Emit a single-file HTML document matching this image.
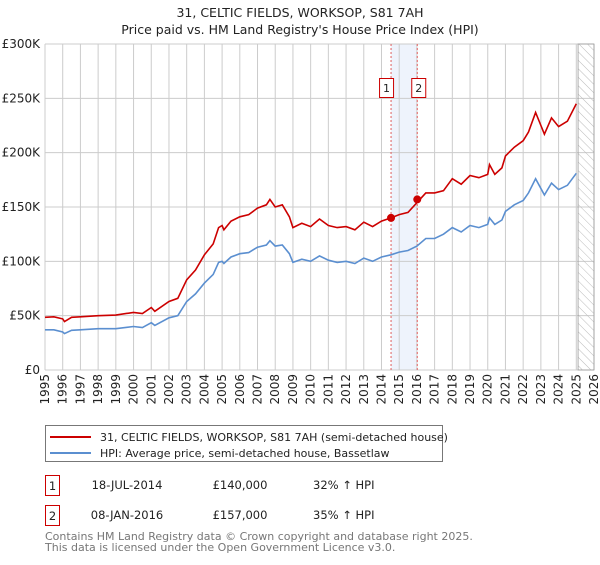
<!DOCTYPE html>
<html><head><meta charset="utf-8"><style>
body{margin:0;background:#fff;font-family:"Liberation Sans","DejaVu Sans",sans-serif;}
svg text{font-family:"DejaVu Sans","Liberation Sans",sans-serif;}
</style></head><body>
<svg width="600" height="560" xmlns="http://www.w3.org/2000/svg" id="chart">
<defs><pattern id="hatch" width="6" height="6" patternUnits="userSpaceOnUse" patternTransform="rotate(-45)"><line x1="0" y1="0" x2="0" y2="6" stroke="#bbb" stroke-width="1"/></pattern></defs>
<text x="300" y="17" text-anchor="middle" font-size="12.5" fill="#222">31, CELTIC FIELDS, WORKSOP, S81 7AH</text>
<text x="300" y="34" text-anchor="middle" font-size="12.5" fill="#222">Price paid vs. HM Land Registry's House Price Index (HPI)</text>
<g id="grid"></g><g id="marks"></g>
<g>
<rect x="45.5" y="425.5" width="397" height="36" fill="#fff" stroke="#777"/>
<line x1="50" y1="437" x2="91" y2="437" stroke="#cc0000" stroke-width="2"/>
<text x="100" y="441" font-size="11" fill="#222">31, CELTIC FIELDS, WORKSOP, S81 7AH (semi-detached house)</text>
<line x1="50" y1="453" x2="91" y2="453" stroke="#5b8fd0" stroke-width="2"/>
<text x="100" y="457" font-size="11" fill="#222">HPI: Average price, semi-detached house, Bassetlaw</text>
</g>
<g font-size="11.5" fill="#222">
<rect x="45.5" y="475.5" width="14" height="20" fill="#fff" stroke="#cc0000"/><text x="52.5" y="490" text-anchor="middle">1</text>
<text x="127" y="489" text-anchor="middle">18-JUL-2014</text><text x="240" y="489" text-anchor="middle">£140,000</text><text x="313" y="489">32% ↑ HPI</text>
<rect x="45.5" y="505.5" width="14" height="20" fill="#fff" stroke="#cc0000"/><text x="52.5" y="520" text-anchor="middle">2</text>
<text x="127" y="519" text-anchor="middle">08-JAN-2016</text><text x="240" y="519" text-anchor="middle">£157,000</text><text x="313" y="519">35% ↑ HPI</text>
</g>
<text x="45" y="540" font-size="11" fill="#777">Contains HM Land Registry data © Crown copyright and database right 2025.</text>
<text x="45" y="551" font-size="11" fill="#777">This data is licensed under the Open Government Licence v3.0.</text>
</svg>
<script>
const hpiYears=[1995,1995.5,1996,1996.1,1996.5,1997,1998,1999,2000,2000.5,2001,2001.2,2002,2002.5,2003,2003.5,2004,2004.5,2004.8,2005,2005.1,2005.5,2006,2006.5,2007,2007.5,2007.7,2008,2008.4,2008.8,2009,2009.5,2010,2010.5,2011,2011.5,2012,2012.5,2013,2013.5,2014,2014.54,2015,2015.5,2016,2016.5,2017,2017.5,2018,2018.5,2019,2019.5,2020,2020.1,2020.4,2020.8,2021,2021.5,2022,2022.3,2022.7,2023,2023.2,2023.6,2024,2024.5,2025];
const hpiValues=[37,37,35,33.5,36.5,37,38,38,40,39,43.5,41,48,50,63,70,80,88,99,100,98,104,107,108,113,115,119,114,115,107,99,102,100,105,101,99,100,98,103,100,104,106,108.5,110,114,121,121,125,131,127,133,131,134,140,134,138,146,152,156,163,176,167,161,172,166,170,181];
const priceValues=[48.5,49,47,44.5,48.5,49,50,50.5,53,52,57.5,54,63,66,83,92,106,116,131,133,129,137,141,143,149,152,157,150,152,141,131,135,132,139,133,131,132,129,136,132,137,140,143,145,154,163,163,165,176,171,179,177,180,189,180,186,197,205,211,219,237,225,217,232,224,229,245];
const saleYears=[2014.54,2016.02];
const saleValues=[140,157];
const saleLabels=["1","2"];
const yTicks=[0,50,100,150,200,250,300];
const yTickLabels=["£0","£50K","£100K","£150K","£200K","£250K","£300K"];
const xTicks=[1995,1996,1997,1998,1999,2000,2001,2002,2003,2004,2005,2006,2007,2008,2009,2010,2011,2012,2013,2014,2015,2016,2017,2018,2019,2020,2021,2022,2023,2024,2025,2026];
const L=45,R=594,T=44,B=370,X0=1995,X1=2026,Y1=300,hatchStart=2025.1;
const xs=v=>L+(v-X0)/(X1-X0)*(R-L), ys=v=>B-v/Y1*(B-T);
const NS="http://www.w3.org/2000/svg";
function mk(tag,attrs,parent,txt){const e=document.createElementNS(NS,tag);for(const k in attrs)e.setAttribute(k,attrs[k]);if(txt!==undefined)e.textContent=txt;parent.appendChild(e);return e;}
const g=document.getElementById('grid'),m=document.getElementById('marks');
let e=mk('rect',{x:xs(saleYears[0]),y:T,width:xs(saleYears[1])-xs(saleYears[0]),height:B-T,fill:'#eef3fc'},g);


yTicks.forEach((v,i)=>{
 mk('line',{x1:L,x2:R,y1:ys(v),y2:ys(v),stroke:'#ccc'},g);
 const t=mk('text',{x:L-5,y:ys(v)+4,'text-anchor':'end','font-size':12,fill:'#222'},g,yTickLabels[i]);
 
 
});
xTicks.forEach(v=>{
 mk('line',{x1:xs(v),x2:xs(v),y1:T,y2:B,stroke:'#ccc'},g);
 const t=mk('text',{x:0,y:0,transform:`translate(${xs(v)+4},${B+4}) rotate(-90)`,'text-anchor':'end','font-size':12,fill:'#222'},g,String(v));
 
 
});
e=mk('rect',{x:xs(hatchStart),y:T,width:R-xs(hatchStart),height:B-T,fill:'url(#hatch)',stroke:'#999','stroke-width':0.8},g);


mk('line',{x1:L,x2:L,y1:T,y2:B,stroke:'#ccc'},g);
saleYears.forEach((y,i)=>{
 const l=mk('line',{x1:xs(y),x2:xs(y),y1:T,y2:B,stroke:'#e06060','stroke-dasharray':'2,2'},m);
 
 
});
const pts=(ys_,vs)=>ys_.map((y,i)=>xs(y).toFixed(1)+','+ys(vs[i]).toFixed(1)).join(' ');
e=mk('polyline',{points:pts(hpiYears,hpiValues),fill:'none',stroke:'#5b8fd0','stroke-width':1.6},m);


e=mk('polyline',{points:pts(hpiYears,priceValues),fill:'none',stroke:'#cc0000','stroke-width':1.6},m);


saleYears.forEach((y,i)=>{
 const c=mk('circle',{cx:xs(y),cy:ys(saleValues[i]),r:4,fill:'#cc0000'},m);
 
 
 const bx=xs(y)-(i===0?11:5);
 const r=mk('rect',{x:bx-0.5,y:78.5,width:14,height:19,fill:'#fff',stroke:'#cc0000'},m);
 
 
 const t=mk('text',{x:bx+6.5,y:92,'text-anchor':'middle','font-size':11,fill:'#222'},m,saleLabels[i]);
 
 
});
</script>
</body></html>
